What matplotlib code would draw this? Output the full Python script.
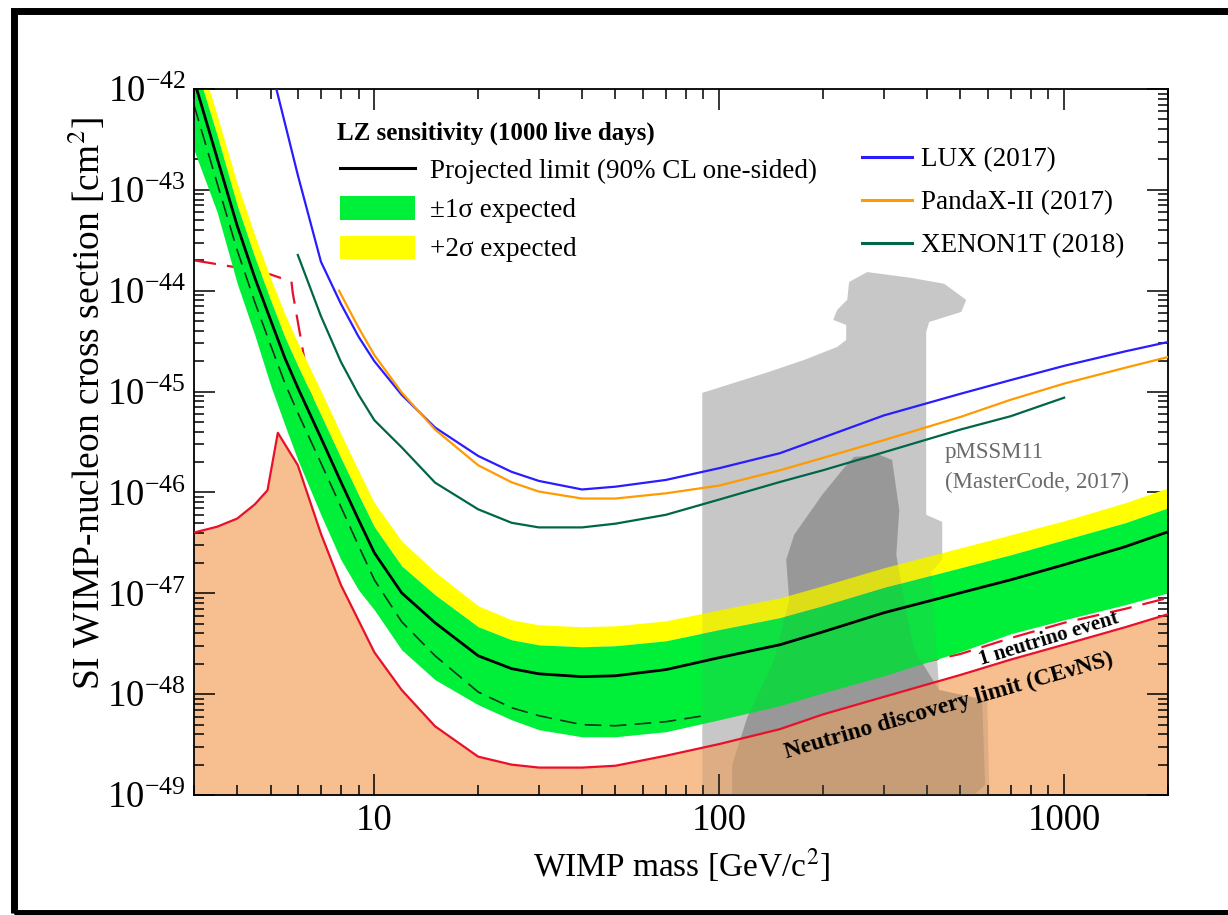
import matplotlib
matplotlib.use('Agg')
import matplotlib.pyplot as plt
from matplotlib.lines import Line2D
from matplotlib.patches import Patch, Rectangle
from matplotlib.ticker import FixedLocator, NullFormatter

plt.rcParams['font.family'] = ['Liberation Serif', 'DejaVu Serif']
plt.rcParams['mathtext.fontset'] = 'stix'

# LZ projection, common mass grid [GeV/c^2]
mass = [3, 3.5, 4, 4.5, 5, 5.5, 6, 7, 8, 9, 10, 12, 15, 20, 25, 30, 40, 50,
        70, 100, 150, 200, 300, 500, 700, 1000, 1500, 2000]
lz_limit = [1.23e-42, 2.07e-43, 4.44e-44, 1.35e-44, 5.14e-45, 2.16e-45, 1.09e-45,
            3.48e-46, 1.27e-46, 5.35e-47, 2.52e-47, 1.01e-47, 5.1e-48, 2.40e-48,
            1.79e-48, 1.59e-48, 1.49e-48, 1.52e-48, 1.75e-48, 2.30e-48, 3.09e-48,
            4.15e-48, 6.41e-48, 1.01e-47, 1.36e-47, 1.92e-47, 2.89e-47, 4.07e-47]
lz_plus1 = [1.94e-42, 3.50e-43, 7.08e-44, 2.16e-44, 8.11e-45, 3.48e-45, 1.80e-45,
            5.88e-46, 2.20e-46, 9.46e-47, 4.56e-47, 1.87e-47, 9.66e-48, 4.66e-48,
            3.46e-48, 3.08e-48, 2.95e-48, 3.02e-48, 3.38e-48, 4.36e-48, 5.73e-48,
            7.52e-48, 1.14e-47, 1.79e-47, 2.41e-47, 3.39e-47, 5.00e-47, 7.03e-47]
lz_plus2 = [3.06e-42, 5.52e-43, 1.17e-43, 3.57e-44, 1.34e-44, 5.89e-45, 3.04e-45,
            1.02e-45, 3.81e-46, 1.64e-46, 7.89e-47, 3.31e-47, 1.63e-47, 7.52e-48,
            5.46e-48, 4.87e-48, 4.66e-48, 4.76e-48, 5.33e-48, 6.85e-48, 9.02e-48,
            1.19e-47, 1.79e-47, 2.82e-47, 3.80e-47, 5.23e-47, 7.89e-47, 1.11e-46]
lz_minus1 = [2.48e-43, 6.04e-44, 1.19e-44, 3.65e-45, 1.16e-45, 4.68e-46, 2.10e-46,
             6.00e-47, 2.15e-47, 1.08e-47, 6.85e-48, 2.75e-48, 1.39e-48, 7.85e-49,
             5.57e-49, 4.44e-49, 3.78e-49, 3.78e-49, 4.24e-49, 5.57e-49, 7.68e-49,
             1.03e-48, 1.52e-48, 2.63e-48, 3.97e-48, 5.46e-48, 7.69e-48, 1.01e-47]
median_mass = [3, 3.5, 4, 4.5, 5, 5.5, 6, 7, 8, 9, 10, 12, 15, 20, 25, 30, 40, 50, 70, 90]
lz_median = [6.94e-43, 1.17e-43, 2.54e-44, 7.74e-45, 2.90e-45, 1.22e-45, 6.15e-46,
             1.96e-46, 7.19e-47, 2.96e-47, 1.36e-47, 5.22e-48, 2.40e-48, 1.05e-48,
             7.33e-49, 6.11e-49, 4.98e-49, 4.86e-49, 5.33e-49, 6.1e-49]

# neutrino backgrounds
nu_mass = [3, 3.5, 4, 4.5, 4.9, 5.25, 6, 7, 8, 10, 12, 15, 20, 25, 30, 40, 50,
           70, 100, 150, 200, 300, 500, 700, 1000, 1500, 2000]
nu_floor = [4.0e-47, 4.57e-47, 5.5e-47, 7.6e-47, 1.05e-46, 3.9e-46, 1.86e-46, 3.9e-47,
            1.21e-47, 2.6e-48, 1.1e-48, 4.8e-49, 2.4e-49, 2.0e-49, 1.87e-49, 1.87e-49,
            1.95e-49, 2.45e-49, 3.2e-49, 4.5e-49, 6.3e-49, 9.4e-49, 1.55e-48, 2.2e-48,
            3.1e-48, 4.6e-48, 6.2e-48]
nu1_mass = [3, 4, 5, 5.75, 5.8, 6.4, 7, 8, 10, 15, 20, 30, 50, 100, 200, 300, 500,
            700, 1000, 1500, 2000]
nu1_event = [2.0e-44, 1.7e-44, 1.45e-44, 1.23e-44, 9.5e-45, 1.4e-45, 3.5e-46, 1e-46,
             2e-47, 3.5e-48, 1.5e-48, 8e-49, 6e-49, 8e-49, 1.3e-48, 1.7e-48, 2.5e-48,
             3.6e-48, 5.1e-48, 7e-48, 9e-48]

# current limits
lux_mass = [5.2, 6, 7, 8, 9, 10, 12, 15, 20, 25, 30, 40, 50, 70, 100, 150, 200, 300,
            500, 700, 1000, 1500, 2000]
lux = [1e-42, 1.4e-43, 1.94e-44, 7.4e-45, 3.5e-45, 2.0e-45, 9.3e-46, 4.4e-46, 2.3e-46,
       1.6e-46, 1.3e-46, 1.07e-46, 1.14e-46, 1.33e-46, 1.74e-46, 2.45e-46, 3.5e-46,
       5.8e-46, 9.5e-46, 1.3e-45, 1.8e-45, 2.5e-45, 3.1e-45]
pandax_mass = [7.9, 9, 10, 12, 15, 20, 25, 30, 40, 50, 70, 100, 150, 200, 300, 500,
               700, 1000, 1500, 2000]
pandax = [1.0e-44, 4.3e-45, 2.3e-45, 9.8e-46, 4.2e-46, 1.86e-46, 1.26e-46, 1.02e-46,
          8.7e-47, 8.7e-47, 9.8e-47, 1.17e-46, 1.66e-46, 2.2e-46, 3.3e-46, 5.6e-46,
          8.3e-46, 1.2e-45, 1.72e-45, 2.2e-45]
xenon_mass = [6, 7, 8, 9, 10, 12, 15, 20, 25, 30, 40, 50, 70, 100, 150, 200, 300,
              500, 700, 1000]
xenon = [2.26e-44, 5.6e-45, 1.97e-45, 9.3e-46, 5.2e-46, 2.8e-46, 1.25e-46, 6.8e-47,
         5.0e-47, 4.5e-47, 4.5e-47, 4.9e-47, 6.0e-47, 8.5e-47, 1.27e-46, 1.66e-46,
         2.5e-46, 4.2e-46, 5.7e-46, 8.7e-46]

# pMSSM11 (MasterCode 2017) regions
pm_outer_mass = [89.3, 89.3, 110.5, 139.6, 176.4, 219.8, 233.4, 233.4, 214, 219.8, 235,
                 238, 268.6, 360, 449, 520, 503, 406, 398, 398, 443, 443, 412, 434,
                 598, 607]
pm_outer_xsec = [1e-49, 9.7e-46, 1.22e-45, 1.57e-45, 2.06e-45, 2.77e-45, 3.25e-45,
                 4.58e-45, 5.14e-45, 6.46e-45, 8.13e-45, 1.22e-44, 1.53e-44, 1.34e-44,
                 1.17e-44, 8.1e-45, 6.16e-45, 4.9e-45, 3.9e-45, 6.0e-47, 5.1e-47,
                 2.15e-47, 1.63e-47, 1.1e-48, 8.8e-49, 1e-49]
pm_inner_mass = [109, 109, 120.5, 144.3, 159.5, 156.4, 164.9, 199, 230, 246, 291, 317,
                 332.5, 326, 343.6, 367, 434, 578, 590, 548]
pm_inner_xsec = [1e-49, 2.0e-49, 5.83e-49, 2.19e-48, 8.6e-48, 2.15e-47, 3.8e-47,
                 9.5e-47, 1.75e-46, 2.25e-46, 2.36e-46, 2.1e-46, 6.7e-47, 2.4e-47,
                 8.6e-48, 2.75e-48, 1.1e-48, 8.8e-49, 1.26e-49, 1e-49]

lz_title = 'LZ sensitivity (1000 live days)'
lz_labels = ['Projected limit (90% CL one-sided)', '\u00b11\u03c3 expected', '+2\u03c3 expected']
exp_labels = ['LUX (2017)', 'PandaX-II (2017)', 'XENON1T (2018)']

green = '#00f03a'
yellow = '#ffff00'
peach = '#f5ae71'
red = '#e8102a'
exp_colors = ['#2a1cff', '#ff9a00', '#00664a']

fig = plt.figure(figsize=(12.28, 9.15), dpi=100)
ax = fig.add_axes([194 / 1228, 1 - 795 / 915, 974 / 1228, 706 / 915])
ax.set_xscale('log')
ax.set_yscale('log')
ax.set_xlim(3, 2000)
ax.set_ylim(1e-49, 1e-42)

# pMSSM11 regions (lower layer)
ax.fill(pm_outer_mass, pm_outer_xsec, color='#787878', alpha=0.33, lw=0, zorder=1)
ax.fill(pm_inner_mass, pm_inner_xsec, color='#646464', alpha=0.40, lw=0, zorder=1.1)

# neutrino floor
ax.fill_between(nu_mass, nu_floor, 1e-49, color=peach, alpha=0.78, lw=0, zorder=1.5)
ax.plot(nu1_mass, nu1_event, color=red, lw=1.6, ls=(0, (10, 5)), zorder=1.6)

# bands
ax.fill_between(mass, lz_plus1, lz_plus2, color=yellow, lw=0, zorder=2)
ax.fill_between(mass, lz_minus1, lz_plus1, color=green, lw=0, zorder=2)
ax.plot(median_mass, lz_median, color='#153515', lw=1.2, ls=(0, (10, 5)), zorder=2.5)

# pMSSM11 regions (light tint over the bands)
ax.fill(pm_outer_mass, pm_outer_xsec, color='#787878', alpha=0.12, lw=0, zorder=3)
ax.fill(pm_inner_mass, pm_inner_xsec, color='#646464', alpha=0.12, lw=0, zorder=3.1)

ax.plot(nu_mass, nu_floor, color=red, lw=1.6, zorder=4)
ax.plot(mass, lz_limit, color='k', lw=2.0, zorder=5)
for m, s, c in zip([lux_mass, pandax_mass, xenon_mass], [lux, pandax, xenon], exp_colors):
    ax.plot(m, s, color=c, lw=1.6, zorder=4)

ax.text(0.771, 0.4635, 'pMSSM11\n(MasterCode, 2017)', transform=ax.transAxes,
        fontsize=16.5, color='#6a6a6a', va='center', ha='left', linespacing=1.55, zorder=6)
ax.text(905, 3.5e-48, '1 neutrino event', fontsize=15, fontweight='bold', rotation=17,
        ha='center', va='center', zorder=6)
ax.text(464, 7.7e-49, 'Neutrino discovery limit (CE\u03bdNS)', fontsize=17,
        fontweight='bold', rotation=16, ha='center', va='center', zorder=6)

# axes styling
ax.set_xticks([10, 100, 1000])
ax.set_xticklabels(['10', '100', '1000'])
ax.xaxis.set_minor_locator(FixedLocator([d * k for d in (1, 10, 100, 1000)
                                         for k in range(2, 10) if 3 <= d * k <= 2000]))
ax.yaxis.set_major_locator(FixedLocator([10.0 ** e for e in range(-49, -41)]))
ax.yaxis.set_minor_locator(FixedLocator([k * 10.0 ** e for e in range(-49, -42)
                                         for k in range(2, 10)]))
ax.xaxis.set_minor_formatter(NullFormatter())
ax.yaxis.set_minor_formatter(NullFormatter())
ax.tick_params(which='both', direction='in', top=True, right=True, width=1.1)
ax.tick_params(which='major', length=15, labelsize=26.5)
ax.tick_params(axis='x', which='major', pad=6)
ax.tick_params(axis='y', which='major', pad=6)
ax.tick_params(which='minor', length=7.5)
for sp in ax.spines.values():
    sp.set_linewidth(1.3)
ax.set_xlabel('WIMP mass [GeV/c$^2$]', fontsize=24, labelpad=6)
ax.set_ylabel('SI WIMP-nucleon cross section [cm$^2$]', fontsize=27)
ax.yaxis.set_label_coords(-0.088, 0.555)

ax.text(0.1468, 0.9377, lz_title, transform=ax.transAxes, fontsize=18,
        fontweight='bold', va='center', ha='left')
h1 = [Line2D([], [], color='k', lw=2.2),
      Patch(facecolor=green, edgecolor='none'),
      Patch(facecolor=yellow, edgecolor='none')]
leg1 = ax.legend(h1, lz_labels, loc='upper left', bbox_to_anchor=(0.1499, 0.903),
                 frameon=False, fontsize=19.5, handlelength=2.77, handleheight=0.93,
                 handletextpad=0.55, labelspacing=0.45, borderpad=0, borderaxespad=0)
ax.add_artist(leg1)
h2 = [Line2D([], [], color=c, lw=2.2) for c in exp_colors]
ax.legend(h2, exp_labels, loc='upper left', bbox_to_anchor=(0.6858, 0.917), frameon=False,
          fontsize=19.5, handlelength=1.85, handletextpad=0.33, labelspacing=0.66,
          borderpad=0, borderaxespad=0)

# thick frame around the whole picture
fig.patches.append(Rectangle((13.5 / 1228, 2 / 915), 1230 / 1228, 902.5 / 915,
                             transform=fig.transFigure, fill=False, lw=5.0,
                             edgecolor='black', zorder=10))

fig.savefig('out.png', dpi=100)
